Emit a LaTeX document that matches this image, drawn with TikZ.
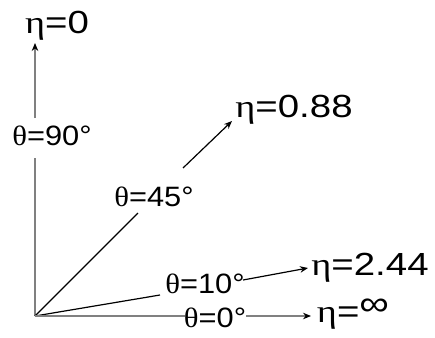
\documentclass[tikz,border=0pt]{standalone}
\usepackage{graphicx}
\usepackage{fontspec}
\setmainfont{Liberation Sans}
\newfontfamily\grk{Liberation Serif}
\usetikzlibrary{arrows.meta}
\definecolor{axisgray}{HTML}{808080}
\newcommand{\thtxt}[1]{\scalebox{1.1}[1]{\fontsize{28}{28}\selectfont #1}}
\newcommand{\etatxt}[1]{\scalebox{1.2}[1]{\fontsize{32}{32}\selectfont #1}}
\begin{document}
\begin{tikzpicture}[x=1pt,y=-1pt,
  thlab/.style={inner sep=0pt},
  etalab/.style={inner sep=0pt},
  ln/.style={line width=1.2pt,black},
  gln/.style={line width=1.3pt,axisgray},
  tip/.style={-{Stealth[length=8pt,width=6.5pt,color=black]}}]
\useasboundingbox (0,0) rectangle (435,337);
\coordinate (O) at (35,316);
% labels
\node[etalab] (e0) at (57,26) {\etatxt{{\grk η}=0}};
\node[thlab] (t90) at (52,136) {\thtxt{{\grk θ}=90°}};
\node[thlab] (t45) at (154,197) {\thtxt{{\grk θ}=45°}};
\node[etalab] (e088) at (294,110) {\etatxt{{\grk η}=0.88}};
\node[thlab] (t10) at (205,284) {\thtxt{{\grk θ}=10°}};
\node[etalab] (e244) at (370,268) {\etatxt{{\grk η}=2.44}};
\node[thlab] (t0) at (215,318) {\thtxt{{\grk θ}=0°}};
\node[etalab] (einf) at (353,314) {\etatxt{{\grk η}=\raisebox{7pt}{\scalebox{1.08}{∞}}}};
% anchor coordinates
\coordinate (v1) at (35,118);
\coordinate (v2) at (35,158);
\coordinate (vtip) at (35,43);
\coordinate (a45) at (138,213);
\coordinate (b45) at (183,168);
\coordinate (tip45) at (232,121);
\coordinate (a10) at (160,295);
\coordinate (b10) at (243,280);
\coordinate (tip10) at (308,268);
\coordinate (a0) at (185,316);
\coordinate (b0) at (246,316);
\coordinate (tip0) at (311,316);
% connectors
\draw[gln] (O) -- (v2);
\draw[gln,tip] (v1) -- (vtip);
\draw[ln] (O) -- (a45);
\draw[ln,tip] (b45) -- (tip45);
\draw[ln] (O) -- (a10);
\draw[ln,tip] (b10) -- (tip10);
\draw[gln] (O) -- (a0);
\draw[gln,tip] (b0) -- (tip0);
\end{tikzpicture}
\end{document}
